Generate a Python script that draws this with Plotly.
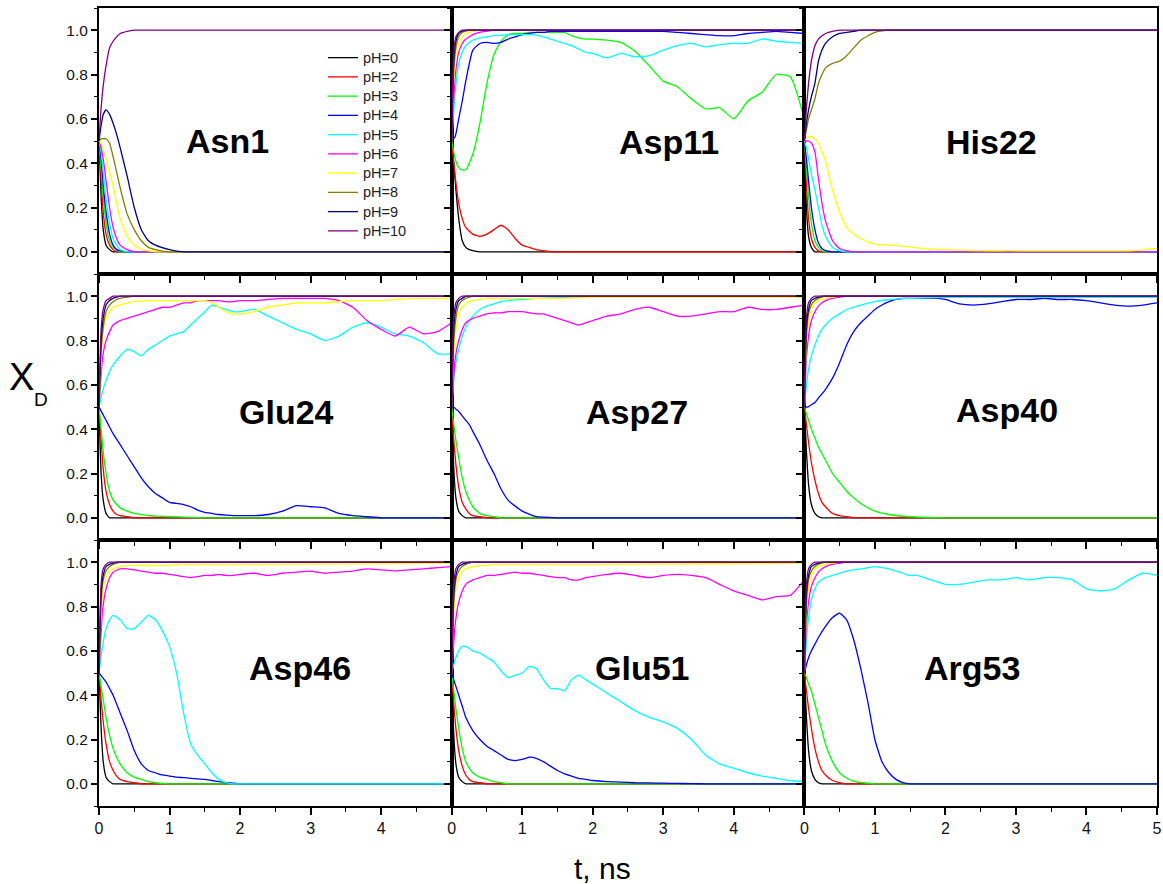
import plotly.graph_objects as go
from plotly.subplots import make_subplots

# ---------------- data ----------------
T_FAST = [0, 0.03, 0.06, 0.1, 0.15, 0.2, 0.25, 0.3, 0.4, 0.5, 0.6, 0.7, 0.8, 1.0, 1.2, 1.5, 2.0, 5.0]
T_SLOW = [0, 0.05, 0.1, 0.15, 0.2, 0.3, 0.4, 0.5, 0.6, 0.7, 0.8, 0.9, 1.0, 1.1, 1.2, 1.3, 1.4, 1.5,
          1.6, 1.7, 1.8, 1.9, 2.0, 2.2, 2.4, 2.6, 2.8, 3.0, 3.2, 3.4, 3.6, 3.8, 4.0, 4.2, 4.4, 4.6, 4.8, 5.0]

PH_LABELS = ["pH=0", "pH=2", "pH=3", "pH=4", "pH=5", "pH=6", "pH=7", "pH=8", "pH=9", "pH=10"]
PANEL_NAMES = ["Asn1", "Asp11", "His22", "Glu24", "Asp27", "Asp40", "Asp46", "Glu51", "Arg53"]

# each series: 18 values -> T_FAST grid, 38 values -> T_SLOW grid
ASN1 = [
    [0.5, 0.25, 0.1, 0.03, 0.01, 0, 0, 0, 0, 0, 0, 0, 0, 0, 0, 0, 0, 0],
    [0.5, 0.33, 0.18, 0.08, 0.03, 0.01, 0, 0, 0, 0, 0, 0, 0, 0, 0, 0, 0, 0],
    [0.5, 0.38, 0.25, 0.13, 0.05, 0.02, 0.01, 0, 0, 0, 0, 0, 0, 0, 0, 0, 0, 0],
    [0.5, 0.42, 0.3, 0.18, 0.08, 0.03, 0.01, 0.005, 0, 0, 0, 0, 0, 0, 0, 0, 0, 0],
    [0.5, 0.45, 0.36, 0.24, 0.13, 0.06, 0.03, 0.01, 0, 0, 0, 0, 0, 0, 0, 0, 0, 0],
    [0.5, 0.47, 0.42, 0.32, 0.2, 0.11, 0.06, 0.03, 0.01, 0, 0, 0, 0, 0, 0, 0, 0, 0],
    [0.5, 0.49, 0.46, 0.42, 0.36, 0.3, 0.22, 0.15, 0.07, 0.03, 0.01, 0.005, 0, 0, 0, 0, 0, 0],
    [0.5, 0.51, 0.51, 0.51, 0.49, 0.43, 0.36, 0.29, 0.17, 0.1, 0.05, 0.02, 0.01, 0, 0, 0, 0, 0],
    [0.5, 0.57, 0.62, 0.64, 0.62, 0.58, 0.53, 0.47, 0.34, 0.2, 0.1, 0.05, 0.03, 0.01, 0, 0, 0, 0],
    [0.5, 0.65, 0.75, 0.84, 0.92, 0.95, 0.97, 0.985, 0.995, 1, 1, 1, 1, 1, 1, 1, 1, 1],
]

ASP11 = [
    [0.5, 0.4, 0.28, 0.15, 0.05, 0.02, 0.01, 0.005, 0, 0, 0, 0, 0, 0, 0, 0, 0, 0],
    [0.5, 0.34, 0.22, 0.15, 0.11, 0.08, 0.07, 0.08, 0.1, 0.12, 0.1, 0.06, 0.03, 0.02, 0.01, 0.005,
     0, 0, 0, 0, 0, 0, 0, 0, 0, 0, 0, 0, 0, 0, 0, 0, 0, 0, 0, 0, 0, 0],
    [0.5, 0.42, 0.38, 0.37, 0.37, 0.44, 0.58, 0.76, 0.89, 0.95, 0.98, 0.985, 0.985, 0.99, 0.99, 0.99,
     0.99, 0.99, 0.99, 0.975, 0.965, 0.96, 0.96, 0.955, 0.945, 0.905, 0.84, 0.77, 0.745, 0.69, 0.645,
     0.65, 0.6, 0.68, 0.72, 0.8, 0.79, 0.6],
    [0.5, 0.52, 0.6, 0.68, 0.77, 0.91, 0.94, 0.945, 0.94, 0.945, 0.96, 0.97, 0.98, 0.985, 0.99, 0.99,
     0.995, 0.995, 0.995, 0.995, 0.995, 0.995, 0.995, 0.995, 0.995, 0.995, 0.995, 0.995, 0.99, 0.985,
     0.98, 0.975, 0.975, 0.985, 0.99, 0.995, 0.99, 0.985],
    [0.5, 0.72, 0.85, 0.9, 0.93, 0.955, 0.965, 0.97, 0.975, 0.978, 0.98, 0.98, 0.98, 0.98, 0.978, 0.97,
     0.96, 0.95, 0.94, 0.93, 0.915, 0.9, 0.895, 0.875, 0.895, 0.88, 0.885, 0.91, 0.93, 0.94, 0.925,
     0.935, 0.94, 0.94, 0.96, 0.95, 0.945, 0.94],
    [0.5, 0.7, 0.82, 0.9, 0.94, 0.96, 0.97, 0.98, 0.99, 0.995, 1, 1, 1, 1, 1, 1, 1, 1],
    [0.5, 0.78, 0.88, 0.94, 0.97, 0.985, 0.99, 0.995, 1, 1, 1, 1, 1, 1, 1, 1, 1, 1],
    [0.5, 0.82, 0.92, 0.97, 0.99, 0.995, 1, 1, 1, 1, 1, 1, 1, 1, 1, 1, 1, 1],
    [0.5, 0.86, 0.95, 0.985, 0.995, 1, 1, 1, 1, 1, 1, 1, 1, 1, 1, 1, 1, 1],
    [0.5, 0.9, 0.97, 0.99, 1, 1, 1, 1, 1, 1, 1, 1, 1, 1, 1, 1, 1, 1],
]

HIS22 = [
    [0.5, 0.2, 0.07, 0.02, 0, 0, 0, 0, 0, 0, 0, 0, 0, 0, 0, 0, 0, 0],
    [0.5, 0.3, 0.15, 0.06, 0.02, 0.005, 0, 0, 0, 0, 0, 0, 0, 0, 0, 0, 0, 0],
    [0.5, 0.38, 0.25, 0.13, 0.05, 0.02, 0.005, 0, 0, 0, 0, 0, 0, 0, 0, 0, 0, 0],
    [0.5, 0.42, 0.32, 0.2, 0.1, 0.04, 0.015, 0.005, 0, 0, 0, 0, 0, 0, 0, 0, 0, 0],
    [0.5, 0.47, 0.42, 0.35, 0.28, 0.2, 0.12, 0.07, 0.02, 0.005, 0, 0, 0, 0, 0, 0, 0, 0],
    [0.5, 0.5, 0.5, 0.49, 0.45, 0.33, 0.22, 0.14, 0.05, 0.015, 0.005, 0, 0, 0, 0, 0, 0, 0],
    [0.5, 0.52, 0.52, 0.51, 0.49, 0.41, 0.28, 0.18, 0.11, 0.08, 0.06, 0.045, 0.035, 0.032, 0.03, 0.028,
     0.025, 0.022, 0.018, 0.015, 0.012, 0.01, 0.01, 0.008, 0.006, 0.005, 0.005, 0.005, 0.004, 0.004,
     0.004, 0.004, 0.004, 0.004, 0.004, 0.005, 0.008, 0.015],
    [0.5, 0.55, 0.6, 0.64, 0.69, 0.76, 0.8, 0.83, 0.85, 0.86, 0.885, 0.92, 0.955, 0.99, 1, 1, 1, 1],
    [0.5, 0.58, 0.64, 0.7, 0.76, 0.86, 0.91, 0.94, 0.97, 0.985, 0.99, 0.995, 1, 1, 1, 1, 1, 1],
    [0.5, 0.65, 0.76, 0.86, 0.93, 0.96, 0.975, 0.985, 0.995, 1, 1, 1, 1, 1, 1, 1, 1, 1],
]

GLU24 = [
    [0.5, 0.2, 0.08, 0.02, 0, 0, 0, 0, 0, 0, 0, 0, 0, 0, 0, 0, 0, 0],
    [0.5, 0.35, 0.22, 0.12, 0.06, 0.03, 0.015, 0.01, 0.005, 0, 0, 0, 0, 0, 0, 0, 0, 0],
    [0.5, 0.4, 0.3, 0.2, 0.12, 0.08, 0.06, 0.045, 0.03, 0.02, 0.015, 0.01, 0.008, 0.005, 0.003, 0, 0, 0],
    [0.5, 0.47, 0.44, 0.41, 0.38, 0.33, 0.28, 0.23, 0.18, 0.14, 0.11, 0.09, 0.07, 0.065, 0.06, 0.05,
     0.035, 0.025, 0.02, 0.015, 0.012, 0.01, 0.01, 0.01, 0.015, 0.03, 0.055, 0.05, 0.045, 0.02, 0.01,
     0.005, 0, 0, 0, 0, 0, 0],
    [0.5, 0.57, 0.62, 0.66, 0.69, 0.73, 0.76, 0.75, 0.73, 0.76, 0.78, 0.8, 0.82, 0.83, 0.84, 0.87,
     0.9, 0.93, 0.96, 0.95, 0.94, 0.93, 0.93, 0.94, 0.91, 0.88, 0.85, 0.83, 0.8, 0.82, 0.86, 0.88,
     0.86, 0.83, 0.82, 0.79, 0.74, 0.74],
    [0.5, 0.72, 0.8, 0.84, 0.87, 0.89, 0.9, 0.91, 0.92, 0.93, 0.94, 0.95, 0.95, 0.96, 0.97, 0.97,
     0.98, 0.98, 0.98, 0.98, 0.975, 0.975, 0.98, 0.98, 0.985, 0.99, 0.99, 0.99, 0.99, 0.98, 0.95,
     0.89, 0.85, 0.82, 0.86, 0.83, 0.84, 0.88],
    [0.5, 0.82, 0.9, 0.93, 0.95, 0.96, 0.97, 0.975, 0.978, 0.98, 0.98, 0.98, 0.98, 0.98, 0.98, 0.98,
     0.98, 0.98, 0.97, 0.95, 0.93, 0.92, 0.92, 0.93, 0.95, 0.96, 0.97, 0.97, 0.97, 0.975, 0.98,
     0.98, 0.98, 0.985, 0.99, 0.99, 0.99, 0.99],
    [0.5, 0.75, 0.86, 0.93, 0.96, 0.975, 0.985, 0.99, 0.995, 1, 1, 1, 1, 1, 1, 1, 1, 1],
    [0.5, 0.8, 0.9, 0.96, 0.98, 0.99, 0.995, 1, 1, 1, 1, 1, 1, 1, 1, 1, 1, 1],
    [0.5, 0.85, 0.94, 0.98, 0.99, 1, 1, 1, 1, 1, 1, 1, 1, 1, 1, 1, 1, 1],
]

ASP27 = [
    [0.5, 0.22, 0.09, 0.03, 0.01, 0, 0, 0, 0, 0, 0, 0, 0, 0, 0, 0, 0, 0],
    [0.5, 0.35, 0.24, 0.14, 0.07, 0.04, 0.02, 0.01, 0.005, 0, 0, 0, 0, 0, 0, 0, 0, 0],
    [0.5, 0.42, 0.35, 0.27, 0.18, 0.12, 0.08, 0.05, 0.02, 0.01, 0.005, 0, 0, 0, 0, 0, 0, 0],
    [0.5, 0.5, 0.49, 0.48, 0.46, 0.44, 0.42, 0.39, 0.33, 0.26, 0.2, 0.13, 0.08, 0.03, 0.005, 0, 0, 0],
    [0.5, 0.62, 0.7, 0.76, 0.82, 0.86, 0.89, 0.91, 0.94, 0.955, 0.965, 0.975, 0.98, 0.985, 0.99, 0.995, 0.995, 0.995],
    [0.5, 0.72, 0.8, 0.85, 0.88, 0.9, 0.91, 0.92, 0.925, 0.925, 0.93, 0.93, 0.93, 0.925, 0.92, 0.92,
     0.91, 0.9, 0.89, 0.88, 0.87, 0.88, 0.89, 0.91, 0.92, 0.94, 0.95, 0.93, 0.91, 0.91, 0.92, 0.93,
     0.93, 0.95, 0.94, 0.94, 0.95, 0.96],
    [0.5, 0.75, 0.85, 0.92, 0.95, 0.965, 0.975, 0.98, 0.985, 0.99, 0.99, 0.99, 0.99, 0.99, 0.99, 0.99, 0.995, 0.995],
    [0.5, 0.8, 0.9, 0.96, 0.98, 0.99, 0.995, 1, 1, 1, 1, 1, 1, 1, 1, 1, 1, 1],
    [0.5, 0.85, 0.94, 0.98, 0.99, 1, 1, 1, 1, 1, 1, 1, 1, 1, 1, 1, 1, 1],
    [0.5, 0.9, 0.97, 0.99, 1, 1, 1, 1, 1, 1, 1, 1, 1, 1, 1, 1, 1, 1],
]

ASP40 = [
    [0.5, 0.3, 0.15, 0.06, 0.02, 0.005, 0, 0, 0, 0, 0, 0, 0, 0, 0, 0, 0, 0],
    [0.5, 0.42, 0.34, 0.25, 0.17, 0.11, 0.07, 0.05, 0.02, 0.01, 0.005, 0, 0, 0, 0, 0, 0, 0],
    [0.5, 0.47, 0.44, 0.4, 0.36, 0.32, 0.29, 0.26, 0.2, 0.16, 0.12, 0.09, 0.065, 0.03, 0.015, 0.005, 0, 0],
    [0.5, 0.5, 0.51, 0.52, 0.54, 0.58, 0.63, 0.7, 0.78, 0.84, 0.88, 0.91, 0.94, 0.96, 0.975, 0.985,
     0.99, 0.99, 0.99, 0.99, 0.99, 0.99, 0.985, 0.965, 0.96, 0.965, 0.975, 0.985, 0.985, 0.99, 0.985,
     0.985, 0.98, 0.97, 0.96, 0.955, 0.96, 0.97],
    [0.5, 0.6, 0.67, 0.73, 0.78, 0.82, 0.85, 0.87, 0.9, 0.92, 0.94, 0.95, 0.96, 0.975, 0.985, 0.99, 0.995, 0.995],
    [0.5, 0.72, 0.82, 0.89, 0.93, 0.955, 0.97, 0.98, 0.99, 0.995, 1, 1, 1, 1, 1, 1, 1, 1],
    [0.5, 0.78, 0.88, 0.94, 0.97, 0.98, 0.985, 0.99, 0.995, 1, 1, 1, 1, 1, 1, 1, 1, 1],
    [0.5, 0.82, 0.92, 0.96, 0.98, 0.99, 0.995, 1, 1, 1, 1, 1, 1, 1, 1, 1, 1, 1],
    [0.5, 0.86, 0.94, 0.98, 0.99, 0.995, 1, 1, 1, 1, 1, 1, 1, 1, 1, 1, 1, 1],
    [0.5, 0.9, 0.97, 0.99, 1, 1, 1, 1, 1, 1, 1, 1, 1, 1, 1, 1, 1, 1],
]

ASP46 = [
    [0.5, 0.25, 0.1, 0.03, 0.01, 0, 0, 0, 0, 0, 0, 0, 0, 0, 0, 0, 0, 0],
    [0.5, 0.38, 0.28, 0.18, 0.1, 0.06, 0.035, 0.02, 0.01, 0.005, 0, 0, 0, 0, 0, 0, 0, 0],
    [0.5, 0.44, 0.38, 0.3, 0.22, 0.16, 0.12, 0.09, 0.05, 0.03, 0.02, 0.01, 0.005, 0, 0, 0, 0, 0],
    [0.5, 0.48, 0.46, 0.43, 0.4, 0.32, 0.24, 0.15, 0.09, 0.06, 0.05, 0.04, 0.035, 0.03, 0.028, 0.025,
     0.022, 0.02, 0.015, 0.01, 0.005, 0.003, 0, 0, 0, 0, 0, 0, 0, 0, 0, 0, 0, 0, 0, 0, 0, 0],
    [0.5, 0.62, 0.7, 0.74, 0.76, 0.74, 0.7, 0.7, 0.73, 0.76, 0.74, 0.69, 0.62, 0.5, 0.32, 0.18,
     0.13, 0.09, 0.05, 0.02, 0.005, 0, 0, 0, 0, 0, 0, 0, 0, 0, 0, 0, 0, 0, 0, 0, 0, 0],
    [0.5, 0.78, 0.88, 0.93, 0.955, 0.97, 0.97, 0.965, 0.96, 0.955, 0.95, 0.95, 0.945, 0.94, 0.935, 0.93,
     0.935, 0.94, 0.94, 0.945, 0.94, 0.94, 0.945, 0.95, 0.94, 0.95, 0.955, 0.96, 0.95, 0.955, 0.96,
     0.97, 0.965, 0.96, 0.965, 0.97, 0.975, 0.98],
    [0.5, 0.78, 0.88, 0.93, 0.96, 0.97, 0.975, 0.98, 0.985, 0.985, 0.985, 0.985, 0.985, 0.985, 0.99, 0.99, 0.99, 0.995],
    [0.5, 0.82, 0.92, 0.96, 0.98, 0.99, 0.995, 1, 1, 1, 1, 1, 1, 1, 1, 1, 1, 1],
    [0.5, 0.86, 0.94, 0.98, 0.99, 0.995, 1, 1, 1, 1, 1, 1, 1, 1, 1, 1, 1, 1],
    [0.5, 0.9, 0.97, 0.99, 1, 1, 1, 1, 1, 1, 1, 1, 1, 1, 1, 1, 1, 1],
]

GLU51 = [
    [0.5, 0.22, 0.09, 0.03, 0.01, 0, 0, 0, 0, 0, 0, 0, 0, 0, 0, 0, 0, 0],
    [0.5, 0.36, 0.25, 0.15, 0.08, 0.04, 0.02, 0.01, 0.005, 0, 0, 0, 0, 0, 0, 0, 0, 0],
    [0.5, 0.42, 0.34, 0.25, 0.16, 0.1, 0.07, 0.05, 0.03, 0.02, 0.01, 0.005, 0, 0, 0, 0, 0, 0],
    [0.5, 0.45, 0.4, 0.35, 0.3, 0.24, 0.2, 0.17, 0.15, 0.13, 0.11, 0.105, 0.11, 0.12, 0.115, 0.1,
     0.08, 0.06, 0.045, 0.035, 0.025, 0.02, 0.015, 0.01, 0.008, 0.005, 0.004, 0.003, 0.002, 0.001,
     0, 0, 0, 0, 0, 0, 0, 0],
    [0.5, 0.56, 0.6, 0.62, 0.62, 0.6, 0.59, 0.57, 0.55, 0.51, 0.48, 0.49, 0.5, 0.53, 0.52, 0.47,
     0.43, 0.43, 0.42, 0.47, 0.49, 0.47, 0.45, 0.41, 0.37, 0.33, 0.3, 0.28, 0.25, 0.2, 0.13, 0.09,
     0.07, 0.05, 0.035, 0.025, 0.015, 0.01],
    [0.5, 0.72, 0.82, 0.87, 0.9, 0.92, 0.93, 0.94, 0.94, 0.945, 0.95, 0.955, 0.95, 0.95, 0.945, 0.94,
     0.935, 0.93, 0.93, 0.92, 0.92, 0.93, 0.935, 0.945, 0.95, 0.94, 0.93, 0.94, 0.945, 0.94, 0.93,
     0.9, 0.87, 0.85, 0.83, 0.845, 0.85, 0.92],
    [0.5, 0.78, 0.88, 0.93, 0.96, 0.97, 0.975, 0.98, 0.985, 0.985, 0.99, 0.99, 0.99, 0.99, 0.99, 0.99, 0.99, 0.995],
    [0.5, 0.82, 0.92, 0.96, 0.98, 0.99, 0.995, 1, 1, 1, 1, 1, 1, 1, 1, 1, 1, 1],
    [0.5, 0.86, 0.94, 0.98, 0.99, 0.995, 1, 1, 1, 1, 1, 1, 1, 1, 1, 1, 1, 1],
    [0.5, 0.9, 0.97, 0.99, 1, 1, 1, 1, 1, 1, 1, 1, 1, 1, 1, 1, 1, 1],
]

ARG53 = [
    [0.5, 0.3, 0.15, 0.06, 0.02, 0.005, 0, 0, 0, 0, 0, 0, 0, 0, 0, 0, 0, 0],
    [0.5, 0.42, 0.34, 0.25, 0.16, 0.1, 0.06, 0.04, 0.015, 0.005, 0, 0, 0, 0, 0, 0, 0, 0],
    [0.5, 0.48, 0.45, 0.42, 0.36, 0.3, 0.24, 0.18, 0.1, 0.05, 0.025, 0.012, 0.006, 0, 0, 0, 0, 0],
    [0.5, 0.56, 0.6, 0.63, 0.66, 0.71, 0.75, 0.77, 0.74, 0.65, 0.52, 0.37, 0.2, 0.1, 0.05, 0.02,
     0.005, 0, 0, 0, 0, 0, 0, 0, 0, 0, 0, 0, 0, 0, 0, 0, 0, 0, 0, 0, 0, 0],
    [0.5, 0.72, 0.83, 0.88, 0.91, 0.93, 0.94, 0.95, 0.96, 0.965, 0.97, 0.975, 0.98, 0.975, 0.97, 0.96,
     0.95, 0.94, 0.94, 0.93, 0.92, 0.91, 0.9, 0.9, 0.91, 0.92, 0.92, 0.93, 0.92, 0.93, 0.93, 0.92,
     0.88, 0.87, 0.88, 0.92, 0.95, 0.94],
    [0.5, 0.72, 0.82, 0.89, 0.93, 0.955, 0.97, 0.98, 0.99, 0.995, 1, 1, 1, 1, 1, 1, 1, 1],
    [0.5, 0.78, 0.88, 0.94, 0.97, 0.98, 0.985, 0.99, 0.995, 1, 1, 1, 1, 1, 1, 1, 1, 1],
    [0.5, 0.82, 0.92, 0.96, 0.98, 0.99, 0.995, 1, 1, 1, 1, 1, 1, 1, 1, 1, 1, 1],
    [0.5, 0.86, 0.94, 0.98, 0.99, 0.995, 1, 1, 1, 1, 1, 1, 1, 1, 1, 1, 1, 1],
    [0.5, 0.9, 0.97, 0.99, 1, 1, 1, 1, 1, 1, 1, 1, 1, 1, 1, 1, 1, 1],
]

PANEL_DATA = [ASN1, ASP11, HIS22, GLU24, ASP27, ASP40, ASP46, GLU51, ARG53]

X_TICKS_INNER = [0, 1, 2, 3, 4]
X_TICKS_LAST = [0, 1, 2, 3, 4, 5]
Y_TICKS = [0.0, 0.2, 0.4, 0.6, 0.8, 1.0]

# ---------------- styling ----------------
COLORS = ["#000000", "#FF0000", "#00FF00", "#0000FF", "#00FFFF",
          "#FF00FF", "#FFFF00", "#808000", "#000080", "#800080"]
FONT = "Arial, Liberation Sans, sans-serif"
W, H = 1163, 884
ML, MR, MT, MB = 99, 1, 8, 78
PW, PH = W - ML - MR, H - MT - MB


def px2x(px):
    return (px - ML) / PW


def py2y(py):
    return 1 - (py - MT) / PH


fig = make_subplots(rows=3, cols=3, horizontal_spacing=0, vertical_spacing=0)

for k, series in enumerate(PANEL_DATA):
    r, c = k // 3 + 1, k % 3 + 1
    for j, ys in enumerate(series):
        ts = T_FAST if len(ys) == len(T_FAST) else T_SLOW
        fig.add_trace(go.Scatter(
            x=ts, y=ys, mode="lines",
            line=dict(color=COLORS[j], width=1.3, shape="spline", smoothing=0.5),
            name='<span style="font-size:14.5px">%s</span>' % PH_LABELS[j],
            legendgroup=PH_LABELS[j],
            showlegend=(k == 0), hoverinfo="skip"),
            row=r, col=c)

for r in range(1, 4):
    for c in range(1, 4):
        xt = X_TICKS_LAST if c == 3 else X_TICKS_INNER
        fig.update_xaxes(
            range=[0, 5], tickmode="array", tickvals=xt, ticktext=[str(v) for v in xt],
            showticklabels=(r == 3), ticks="outside", ticklen=7, tickwidth=1.5, tickcolor="black",
            minor=dict(ticks="outside", ticklen=4, tickwidth=1.2, tickcolor="black",
                       tickmode="linear", tick0=0, dtick=0.5),
            showline=True, mirror=True, linecolor="black", linewidth=2,
            showgrid=False, zeroline=False, ticklabeloverflow="allow",
            tickfont=dict(family=FONT, size=16, color="#111"),
            row=r, col=c)
        fig.update_yaxes(
            range=[-0.1, 1.1], tickmode="array", tickvals=Y_TICKS,
            ticktext=["%.1f" % v for v in Y_TICKS],
            showticklabels=(c == 1), ticks="outside", ticklen=6, tickwidth=1.5, tickcolor="black",
            minor=dict(ticks="outside", ticklen=3, tickwidth=1.2, tickcolor="black",
                       tickmode="linear", tick0=0, dtick=0.1),
            showline=True, mirror=True, linecolor="black", linewidth=2,
            showgrid=False, zeroline=False,
            tickfont=dict(family=FONT, size=15.5, color="#111"),
            row=r, col=c)

LABEL_POS = [(228, 141), (672, 142), (996, 142),
             (287, 412), (640, 412), (1011, 410),
             (301, 668), (645, 668), (976, 668)]
annotations = []
for name, (px, py) in zip(PANEL_NAMES, LABEL_POS):
    annotations.append(dict(
        text="<b>%s</b>" % name, x=px2x(px), y=py2y(py), xref="paper", yref="paper",
        xanchor="center", yanchor="middle", showarrow=False,
        font=dict(family=FONT, size=34, color="black")))

annotations.append(dict(text="X", x=px2x(21), y=py2y(377), xref="paper", yref="paper",
                        xanchor="center", yanchor="middle", showarrow=False,
                        font=dict(family=FONT, size=38, color="black")))
annotations.append(dict(text="D", x=px2x(41), y=py2y(399), xref="paper", yref="paper",
                        xanchor="center", yanchor="middle", showarrow=False,
                        font=dict(family=FONT, size=19, color="black")))
annotations.append(dict(text="t, ns", x=px2x(605), y=py2y(868), xref="paper", yref="paper",
                        xanchor="center", yanchor="middle", showarrow=False,
                        font=dict(family=FONT, size=30, color="black")))

fig.update_layout(
    width=W, height=H,
    margin=dict(l=ML, r=MR, t=MT, b=MB, pad=0),
    paper_bgcolor="white", plot_bgcolor="white",
    annotations=annotations,
    showlegend=True,
    legend=dict(x=px2x(324), y=py2y(43), xanchor="left", yanchor="top",
                bgcolor="rgba(0,0,0,0)", borderwidth=0, tracegroupgap=0,
                font=dict(family=FONT, size=12.5, color="#222"),
                itemwidth=30, traceorder="normal"),
    font=dict(family=FONT),
)

fig.write_html("out.html", config={"displayModeBar": False},
               post_script="document.body.style.margin='0';")
